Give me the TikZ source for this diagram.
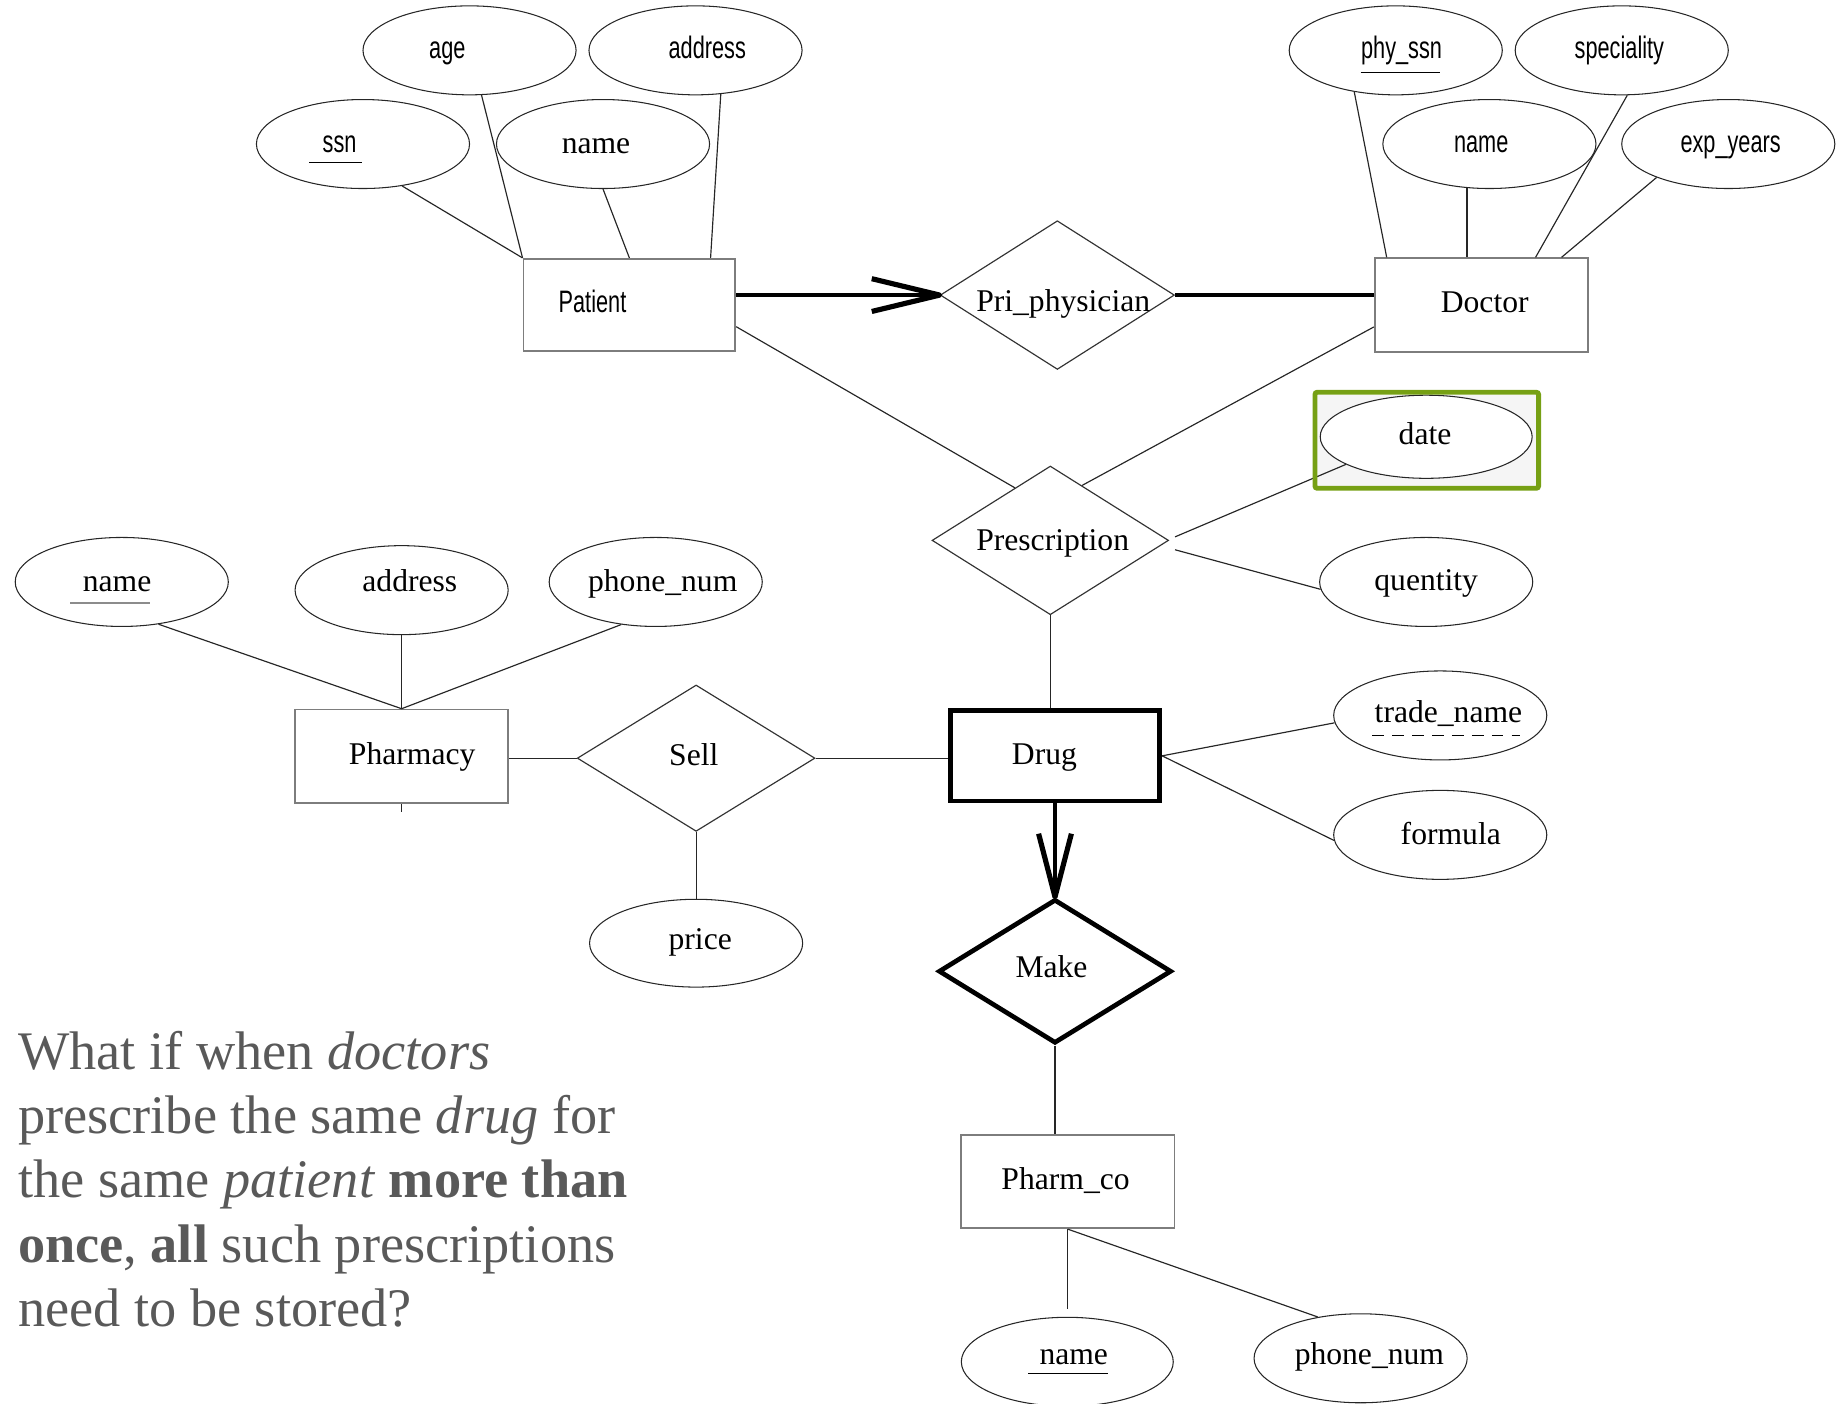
\documentclass[tikz,border=0pt]{standalone}
\usepackage{fontspec}
\setmainfont{Liberation Serif}
\newfontfamily\narrowsans[FakeStretch=0.7]{Liberation Sans}
\usetikzlibrary{shapes.geometric,calc}

\definecolor{boxgreen}{RGB}{118,160,20}
\definecolor{questgrey}{RGB}{89,89,89}
\definecolor{edgegrey}{RGB}{125,125,125}

\begin{document}
\begin{tikzpicture}[x=0.5pt,y=-0.5pt,
  attr/.style={ellipse,draw=black!85,line width=0.45pt,minimum width=91pt,minimum height=38pt,inner sep=0pt},
  entity/.style={rectangle,draw=edgegrey,line width=0.75pt,minimum width=91pt,minimum height=40pt,inner sep=0pt},
  weakent/.style={rectangle,draw=black,line width=2pt,minimum width=89.5pt,minimum height=38.5pt,inner sep=0pt},
  rel/.style={diamond,draw=black!80,line width=0.5pt,minimum width=101pt,minimum height=63.5pt,inner sep=0pt},
  strongrel/.style={diamond,draw=black,line width=2pt,minimum width=99.5pt,minimum height=61.5pt,inner sep=0pt},
  serif/.style={anchor=base,inner sep=0pt,font=\fontsize{13.5pt}{16pt}\selectfont},
  sans/.style={anchor=base,inner sep=0pt,font=\narrowsans\fontsize{13.25pt}{16pt}\selectfont},
  link/.style={draw=black!85,line width=0.5pt},
  heavy/.style={draw=black,line width=2pt},
  tipline/.style={draw=black,line width=2.2pt,line join=round},
]
\useasboundingbox (0,0) rectangle (1568,1199);
\clip (0,0) rectangle (1568,1199);

% ---------------- Patient and its attributes
\node[attr] (age)   at (401,43)  {};
\node[attr] (paddr) at (594,43)  {};
\node[attr] (ssn)   at (310,123) {};
\node[attr] (pname) at (515,123) {};
\node[entity,minimum width=90.5pt,minimum height=39.5pt] (patient) at (537.5,260.5) {};
\node[sans]  (age-t)   at (382,50)  {age};
\node[sans]  (paddr-t) at (604,50)  {address};
\node[sans]  (ssn-t)   at (290,130) {ssn};
\node[serif] (pname-t) at (509,131) {name};
\node[sans]  (patient-t) at (506,267) {Patient};
\draw[line width=0.6pt] (264,139) -- (309,139);

\draw[link] (ssn.-47) -- (patient.north west);
\draw[link] (age.-75) -- (patient.north west);
\draw[link] (pname.-90) -- (patient.north);
\draw[link] (paddr.-60) -- ($(patient.north west)!0.88!(patient.north east)$);

% ---------------- Doctor and its attributes
\node[attr] (physsn) at (1192,43)  {};
\node[attr] (spec)   at (1385,43)  {};
\node[attr] (dname)  at (1272,123) {};
\node[attr] (expy)   at (1476,123) {};
\node[entity] (doctor) at (1265,260.5) {};
\node[sans]  (physsn-t) at (1197,50)  {phy\_ssn};
\node[sans]  (spec-t)   at (1383,50)  {speciality};
\node[sans]  (dname-t)  at (1265,130) {name};
\node[sans]  (expy-t)   at (1478,130) {exp\_years};
\node[serif] (doctor-t) at (1268,267) {Doctor};
\draw[line width=0.6pt] (1162,62) -- (1230,62);

\draw[link] (physsn.-135) -- ($(doctor.north west)!0.06!(doctor.north east)$);
\draw[link] (dname.-117) -- (dname.-117 |- doctor.north);
\draw[link] (spec.-83) -- ($(doctor.north west)!0.753!(doctor.north east)$);
\draw[link] (expy.205) -- ($(doctor.north west)!0.874!(doctor.north east)$);

% ---------------- Pri_physician
\node[rel,minimum width=100pt] (pri) at (903,252) {};
\node[serif] (pri-t) at (908,266) {Pri\_physician};
\draw[heavy] (patient.east |- pri.west) -- (pri.west);
\draw[tipline] ($(pri.west)+(-58,-14)$) -- (pri.west) -- ($(pri.west)+(-58,14)$);
\draw[heavy] (pri.east) -- (doctor.west |- pri.east);

% ---------------- Prescription with date and quantity
% soft haze of the highlight frame, laid under the date attribute
\fill[black!4] (1125,337) rectangle (1312,415);
\node[rel] (presc) at (897,461.5) {};
\node[serif] (presc-t) at (899,470) {Prescription};
\node[attr,fill=white,minimum width=90.5pt,minimum height=35.5pt] (date) at (1218,373) {};
\node[serif] (date-t) at (1217,380) {date};
\node[attr] (quent) at (1218,497) {};
\node[serif] (quent-t) at (1218,504) {quentity};

\draw[link] ($(patient.north east)!0.73!(patient.south east)$) -- (presc.124);
\draw[link] ($(doctor.north west)!0.73!(doctor.south west)$) -- (presc.60);
\draw[link] ($(presc.east)+(5,-3)$) -- (date.199);
\draw[link] ($(presc.east)+(5,8)$) -- (quent.184);

% highlight frame round the date attribute
\draw[boxgreen,line width=2.1pt,rounded corners=1pt] (1123,335) rectangle (1314,417);

% ---------------- Drug
\node[weakent] (drug) at (901,645.5) {};
\node[serif] (drug-t) at (892,653) {Drug};
\node[attr] (trade)   at (1230,611) {};
\node[attr] (formula) at (1230,713) {};
\node[serif] (trade-t)   at (1237,617) {trade\_name};
\node[serif] (formula-t) at (1239,721) {formula};
\draw[line width=0.6pt,dash pattern=on 5pt off 3.5pt] (1172,628) -- (1298,628);

\draw[link] (presc.south) -- (presc.south |- drug.north);
\draw[link] (drug.east) -- (trade.184);
\draw[link] (drug.east) -- (formula.183);

% ---------------- Make and Pharm_co
\node[strongrel] (make) at (901,829.5) {};
\node[serif] (make-t) at (898,835) {Make};
\draw[heavy] (drug.south) -- (make.north);
\draw[tipline] ($(make.north)+(-14,-54)$) -- (make.north) -- ($(make.north)+(14,-54)$);

\node[entity] (pharmco) at (912,1009) {};
\node[serif] (pharmco-t) at (910,1016) {Pharm\_co};
\draw[link] (make.south) -- (make.south |- pharmco.north);

\node[attr,minimum width=90.5pt] (pcname)  at (911.5,1163) {};
\node[attr] (pcphone) at (1162,1160) {};
\node[serif] (pcname-t)  at (917,1165) {name};
\node[serif] (pcphone-t) at (1169.5,1165) {phone\_num};
\draw[line width=0.6pt] (878,1173) -- (946,1173);

\draw[link,shorten >=3.5pt] (pharmco.south) -- (pharmco.south |- pcname.north);
\draw[link] (pharmco.south) -- (pcphone.136);

% ---------------- Pharmacy and Sell
\node[attr] (phname)  at (104,497) {};
\node[attr] (phaddr)  at (343,504) {};
\node[attr] (phphone) at (560,497) {};
\node[serif] (phname-t)  at (100,505) {name};
\node[serif] (phaddr-t)  at (350,505) {address};
\node[serif] (phphone-t) at (566,505) {phone\_num};
\draw[black!45,line width=0.9pt] (60,515) -- (128,515);

\node[entity] (pharmacy) at (343,646) {};
\node[serif] (pharmacy-t) at (352,653) {Pharmacy};

\draw[link] (phname.-49) -- (pharmacy.north);
\draw[link] (phaddr.south) -- (pharmacy.north);
\draw[link] (phphone.-129) -- (pharmacy.north);
\draw[link] (pharmacy.south) -- ++(0,7);

\node[rel,minimum width=101.5pt,minimum height=62.5pt] (sell) at (594.5,647.5) {};
\node[serif] (sell-t) at (592.5,654) {Sell};
\draw[link] (pharmacy.east |- sell.west) -- (sell.west);
\draw[link] (sell.east) -- (drug.west |- sell.east);

\node[attr,minimum height=37.5pt] (price) at (594.5,805.5) {};
\node[serif] (price-t) at (598,811) {price};
\draw[link] (sell.south) -- (price.north);

% ---------------- question
\node[anchor=north west,inner sep=0pt,align=left,text=questgrey,
      font=\fontsize{23.2pt}{27.5pt}\selectfont] (question) at (15,880)
  {What if when \textit{doctors}\\
   prescribe the same \textit{drug} for\\
   the same \textit{patient} \textbf{more than}\\
   \textbf{once}, \textbf{all} such prescriptions\\
   need to be stored?};
\end{tikzpicture}
\end{document}
